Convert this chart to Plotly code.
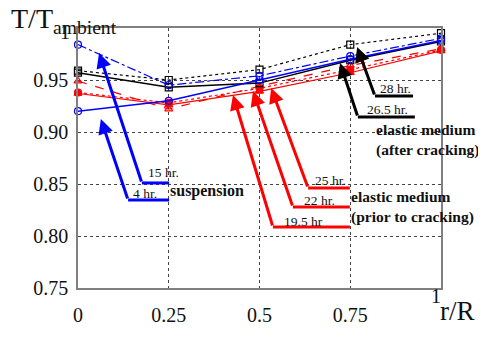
import plotly.graph_objects as go

# ---- data ----
r_over_R = [0, 0.25, 0.5, 0.75, 1]
susp_4hr = [0.920, 0.930, 0.950, 0.970, 0.988]
susp_15hr = [0.984, 0.945, 0.954, 0.973, 0.990]
prior_19_5hr = [0.937, 0.926, 0.939, 0.957, 0.978]
prior_22hr = [0.938, 0.928, 0.942, 0.960, 0.979]
prior_25hr = [0.949, 0.922, 0.944, 0.964, 0.980]
after_26_5hr = [0.957, 0.943, 0.947, 0.969, 0.987]
after_28hr = [0.959, 0.950, 0.960, 0.984, 0.995]

y_tickvals = [0.75, 0.80, 0.85, 0.90, 0.95]
y_ticktext = ["0.75", "0.80", "0.85", "0.90", "0.95"]
x_tickvals = [0, 0.25, 0.5, 0.75]
x_ticktext = ["0", "0.25", "0.5", "0.75"]

BLUE = "#0000ff"
RED = "#ff0000"
BLACK = "#000000"
SERIF = "Liberation Serif, Times New Roman, serif"

fig = go.Figure()

def add(y, color, dash, symbol, width=1.2, size=7):
    fig.add_trace(go.Scatter(
        x=r_over_R, y=y, mode="lines+markers",
        line=dict(color=color, dash=dash, width=width),
        marker=dict(symbol=symbol, size=size, color=color,
                    line=dict(color=color, width=1.2)),
        showlegend=False, cliponaxis=False))

add(prior_25hr, RED, "dash", "triangle-up-open")
add(prior_22hr, RED, "dot", "circle")
add(prior_19_5hr, RED, "solid", "triangle-up")
add(after_28hr, BLACK, "dot", "square-open")
add(after_26_5hr, BLACK, "solid", "square-open", width=1.5)
add(susp_15hr, BLUE, "dashdot", "circle-open")
add(susp_4hr, BLUE, "solid", "circle-open", width=1.5)

# ---- leader arrows: (tip_x, tip_y, bend_x, bend_y, end_x, color) ----
leaders = [
    (0.058, 0.976, 0.176, 0.851, 0.251, BLUE),
    (0.063, 0.9125, 0.138, 0.8346, 0.251, BLUE),
    (0.427, 0.9356, 0.537, 0.8087, 0.749, RED),
    (0.482, 0.9394, 0.592, 0.8279, 0.749, RED),
    (0.532, 0.9423, 0.634, 0.8462, 0.749, RED),
    (0.769, 0.9817, 0.818, 0.9346, 0.923, BLACK),
    (0.722, 0.9663, 0.771, 0.9144, 0.928, BLACK),
]
for tx, ty, bx, by, ex, c in leaders:
    fig.add_shape(type="line", xref="x", yref="y", x0=bx, y0=by, x1=ex, y1=by,
                  line=dict(color=c, width=3))
    fig.add_annotation(x=tx, y=ty, ax=bx, ay=by, axref="x", ayref="y",
                       xref="x", yref="y", text="", showarrow=True,
                       arrowhead=2, arrowsize=1.0, arrowwidth=3, arrowcolor=c,
                       standoff=0, startstandoff=0)

labels = [
    ("15 hr.", 0.187, 0.8606, 13.5, False),
    ("4 hr.", 0.146, 0.8413, 13.5, False),
    ("suspension", 0.248, 0.8433, 16, True),
    ("19.5 hr", 0.562, 0.8144, 13.5, False),
    ("22 hr.", 0.617, 0.8337, 13.5, False),
    ("25 hr.", 0.647, 0.8538, 13.5, False),
    ("elastic medium<br>(prior to cracking)", 0.747, 0.8279, 15.5, True),
    ("28 hr.", 0.826, 0.9423, 13.5, False),
    ("26.5 hr.", 0.791, 0.9221, 13.5, False),
    ("elastic medium<br>(after cracking)", 0.816, 0.8923, 15.5, True),
]
for t, x, y, s, b in labels:
    fig.add_annotation(x=x, y=y, xref="x", yref="y", text=f"<b>{t}</b>" if b else t,
                       showarrow=False, xanchor="left", yanchor="middle", align="left",
                       font=dict(family=SERIF, size=s, color="#111"))

# axis titles / end ticks
fig.add_annotation(x=-0.19, y=1.105, xref="paper", yref="paper",
                   text="T/T<sub>ambient</sub>", showarrow=False,
                   xanchor="left", yanchor="top",
                   font=dict(family=SERIF, size=28, color="#111"))
fig.add_annotation(x=1.1, y=-0.155, xref="paper", yref="paper",
                   text="r/R", showarrow=False, xanchor="right", yanchor="bottom",
                   font=dict(family=SERIF, size=27, color="#111"))
fig.add_annotation(x=0.985, y=-0.031, xref="paper", yref="paper",
                   text="1", showarrow=False, xanchor="center", yanchor="middle",
                   font=dict(family=SERIF, size=20, color="#111"))
fig.add_annotation(x=-0.016, y=0.983, xref="paper", yref="paper",
                   text="1", showarrow=False, xanchor="right", yanchor="middle",
                   font=dict(family=SERIF, size=20, color="#111"))

fig.update_xaxes(range=[0, 1], tickvals=x_tickvals, ticktext=x_ticktext,
                 showgrid=True, gridcolor="#444", griddash="dot", gridwidth=1,
                 showline=True, linecolor="#808080", linewidth=1.5, mirror=True,
                 zeroline=False, ticks="", ticklabelstandoff=8, automargin=False,
                 tickfont=dict(family=SERIF, size=20, color="#111"))
fig.update_yaxes(range=[0.75, 1.0], tickvals=y_tickvals, ticktext=y_ticktext,
                 showgrid=True, gridcolor="#444", griddash="dot", gridwidth=1,
                 showline=True, linecolor="#808080", linewidth=1.5, mirror=True,
                 zeroline=False, ticks="", ticklabelstandoff=4, automargin=False,
                 tickfont=dict(family=SERIF, size=20, color="#111"))

# the page body adds an 8px margin, so the figure is sized to fit the window exactly
fig.update_layout(width=470, height=321, margin=dict(l=70, r=37, t=20, b=41),
                  plot_bgcolor="white", paper_bgcolor="white")

fig.write_html("out.html")
